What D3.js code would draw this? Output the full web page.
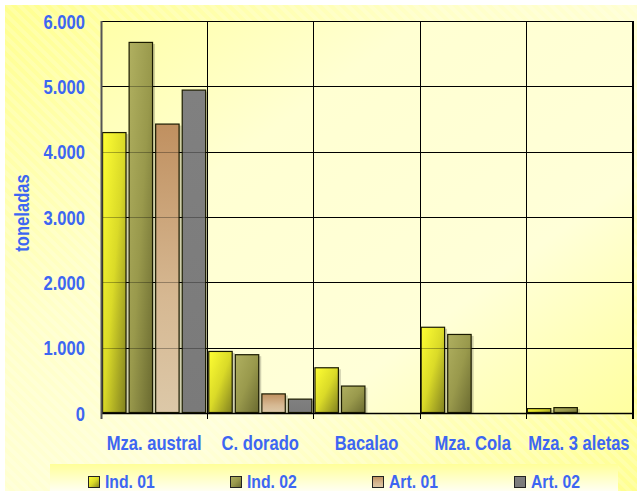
<!DOCTYPE html>
<html><head><meta charset="utf-8">
<script src="https://cdn.jsdelivr.net/npm/d3@7"></script>
<style>
html,body{margin:0;padding:0;background:#fff;}
svg{display:block;}
text{font-family:"Liberation Sans",Arial,sans-serif;font-weight:bold;fill:#3d66f2;}
</style></head><body>
<script>
const categories = ["Mza. austral","C. dorado","Bacalao","Mza. Cola","Mza. 3 aletas"];
const seriesNames = ["Ind. 01","Ind. 02","Art. 01","Art. 02"];
const ind01 = [4300, 950, 700, 1320, 75];
const ind02 = [5680, 900, 420, 1210, 90];
const art01 = [4430, 300, 0, 0, 0];
const art02 = [4950, 220, 0, 0, 0];
const yTicks = [0,1000,2000,3000,4000,5000,6000];
const yTitle = "toneladas";

const seriesValues = [ind01, ind02, art01, art02];
const W = 637, H = 491;
const m = {left:101, right:5, top:21, bottom:78};
const NX = 0.83; // horizontal condensing of text
const svg = d3.select("body").append("svg").attr("width",W).attr("height",H);
const defs = svg.append("defs");

function narrow(sel){
  sel.each(function(){
    const t = d3.select(this);
    const x = +t.attr("x") || 0;
    const yy = +t.attr("y") || 0;
    t.attr("transform",`translate(${x},${yy}) scale(${NX},1) translate(${-x},${-yy})`);
  });
}
function lg(id, x1,y1,x2,y2, stops){
  const g = defs.append("linearGradient").attr("id",id)
    .attr("x1",x1).attr("y1",y1).attr("x2",x2).attr("y2",y2);
  stops.forEach(s=>g.append("stop").attr("offset",s[0]).attr("stop-color",s[1]));
}
lg("bgGrad","0%","0%","100%","100%",[[0,"#ffff8f"],[0.35,"#ffffc8"],[0.6,"#ffffd8"],[1,"#ffff90"]]);
lg("plotGrad","0%","0%","100%","100%",[[0,"#ffffa8"],[0.3,"#ffffd2"],[0.7,"#ffffd8"],[1,"#ffffa0"]]);
lg("legGrad","0%","0%","0%","100%",[[0,"#ffff99"],[1,"#fffff2"]]);
lg("g0","0%","0%","100%","100%",[[0,"#ffff33"],[0.5,"#dada28"],[1,"#808020"]]);
lg("g1","0%","0%","100%","100%",[[0,"#b0b060"],[0.5,"#99994c"],[1,"#6a6a30"]]);
lg("g2","0%","0%","0%","100%",[[0,"#c09060"],[0.6,"#d6b892"],[1,"#dcc8a8"]]);
lg("g3","0%","0%","0%","100%",[[0,"#808080"],[1,"#7a7a7a"]]);
const fills = ["url(#g0)","url(#g1)","url(#g2)","url(#g3)"];

svg.append("rect").attr("x",5).attr("y",5).attr("width",W-5).attr("height",H-5).attr("fill","url(#bgGrad)");
const pat = defs.append("pattern").attr("id","stripes").attr("width",8).attr("height",8)
  .attr("patternUnits","userSpaceOnUse").attr("patternTransform","rotate(-45)");
pat.append("rect").attr("width",4).attr("height",8).attr("fill","#ffffff").attr("opacity",0.18);
svg.append("rect").attr("x",5).attr("y",5).attr("width",W-5).attr("height",H-5).attr("fill","url(#stripes)");

const x0 = d3.scaleBand().domain(categories).range([m.left, W-m.right]).padding(0);
const x1 = d3.scaleBand().domain(seriesNames).range([0, x0.bandwidth()]).paddingInner(0.08).paddingOuter(0.04);
const y = d3.scaleLinear().domain([0,6000]).range([H-m.bottom, m.top]);

svg.append("rect").attr("x",m.left).attr("y",m.top).attr("width",W-m.right-m.left).attr("height",y(0)-m.top)
  .attr("fill","url(#plotGrad)");

const grid = svg.append("g");
grid.selectAll("line.h").data(yTicks).join("line")
  .attr("x1",m.left).attr("x2",W-m.right).attr("y1",d=>Math.round(y(d))+0.5).attr("y2",d=>Math.round(y(d))+0.5)
  .attr("stroke","#000").attr("stroke-width",1);
const bounds = categories.map(c=>x0(c)).concat([W-m.right]);
grid.selectAll("line.v").data(bounds).join("line")
  .attr("x1",d=>Math.round(d)+0.5).attr("x2",d=>Math.round(d)+0.5).attr("y1",m.top).attr("y2",y(0)+6)
  .attr("stroke","#000").attr("stroke-width",1);

const data = [];
categories.forEach((c,i)=>seriesNames.forEach((s,j)=>{ if(seriesValues[j][i]>0) data.push({c,s,j,v:seriesValues[j][i]}); }));
const bars = svg.append("g");
bars.selectAll("rect.sh").data(data).join("rect")
  .attr("x",d=>x0(d.c)+x1(d.s)+2).attr("y",d=>y(d.v)+2)
  .attr("width",x1.bandwidth()).attr("height",d=>y(0)-y(d.v)-2)
  .attr("fill","#000").attr("opacity",0.18);
bars.selectAll("rect.b").data(data).join("rect")
  .attr("x",d=>x0(d.c)+x1(d.s)+0.5).attr("y",d=>y(d.v)+0.5)
  .attr("width",x1.bandwidth()-1).attr("height",d=>y(0)-y(d.v)-1)
  .attr("fill",d=>fills[d.j]).attr("stroke","#1a1a00").attr("stroke-width",1.2);

svg.append("g").selectAll("line").data(yTicks.slice(1)).join("line")
  .attr("x1",m.left).attr("x2",W-m.right).attr("y1",d=>Math.round(y(d))+0.5).attr("y2",d=>Math.round(y(d))+0.5)
  .attr("stroke","#000").attr("stroke-opacity",0.3);

svg.append("line").attr("x1",m.left).attr("x2",W-m.right).attr("y1",Math.round(y(0))+0.5).attr("y2",Math.round(y(0))+0.5).attr("stroke","#000").attr("stroke-width",1.5);
svg.append("line").attr("x1",W-m.right+1).attr("x2",W-m.right+1).attr("y1",m.top).attr("y2",y(0)+6).attr("stroke","#000").attr("stroke-width",2);
svg.append("line").attr("x1",m.left+0.5).attr("x2",m.left+0.5).attr("y1",m.top).attr("y2",y(0)+6).attr("stroke","#555").attr("stroke-width",2);

const fmt = d3.formatLocale({decimal:",",thousands:".",grouping:[3],currency:["",""]}).format(",");
const yAxis = d3.axisLeft(y).tickValues(yTicks).tickFormat(fmt).tickSize(0).tickPadding(16);
const ya = svg.append("g").attr("transform",`translate(${m.left},0)`).call(yAxis);
ya.select(".domain").remove();
ya.selectAll("text").attr("font-size",20).attr("fill","#3d66f2").attr("font-family",null).attr("dy","0.35em").call(narrow);

const xAxis = d3.axisBottom(x0).tickSize(0).tickPadding(0);
const xa = svg.append("g").attr("transform",`translate(0,${y(0)})`).call(xAxis);
xa.select(".domain").remove();
xa.selectAll("text").attr("font-size",20).attr("fill","#3d66f2").attr("font-family",null).attr("dy",null).attr("y",37).call(narrow);

svg.append("text").attr("x",0).attr("y",0)
  .attr("transform",`translate(29,${(m.top+y(0))/2 - 4}) rotate(-90) scale(${NX},1)`)
  .attr("text-anchor","middle").attr("font-size",20).text(yTitle);

svg.append("rect").attr("x",50).attr("y",464).attr("width",568).attr("height",27).attr("fill","url(#legGrad)");
const leg = svg.append("g").selectAll("g").data(seriesNames).join("g")
  .attr("transform",(d,i)=>`translate(${88+i*142},476)`);
leg.append("rect").attr("x",0.5).attr("y",0.5).attr("width",11).attr("height",11)
  .attr("fill",(d,i)=>fills[i]).attr("stroke","#222").attr("stroke-width",1);
leg.append("text").attr("x",17).attr("y",11.5).attr("font-size",19).text(d=>d).call(narrow);
</script>
</body></html>
